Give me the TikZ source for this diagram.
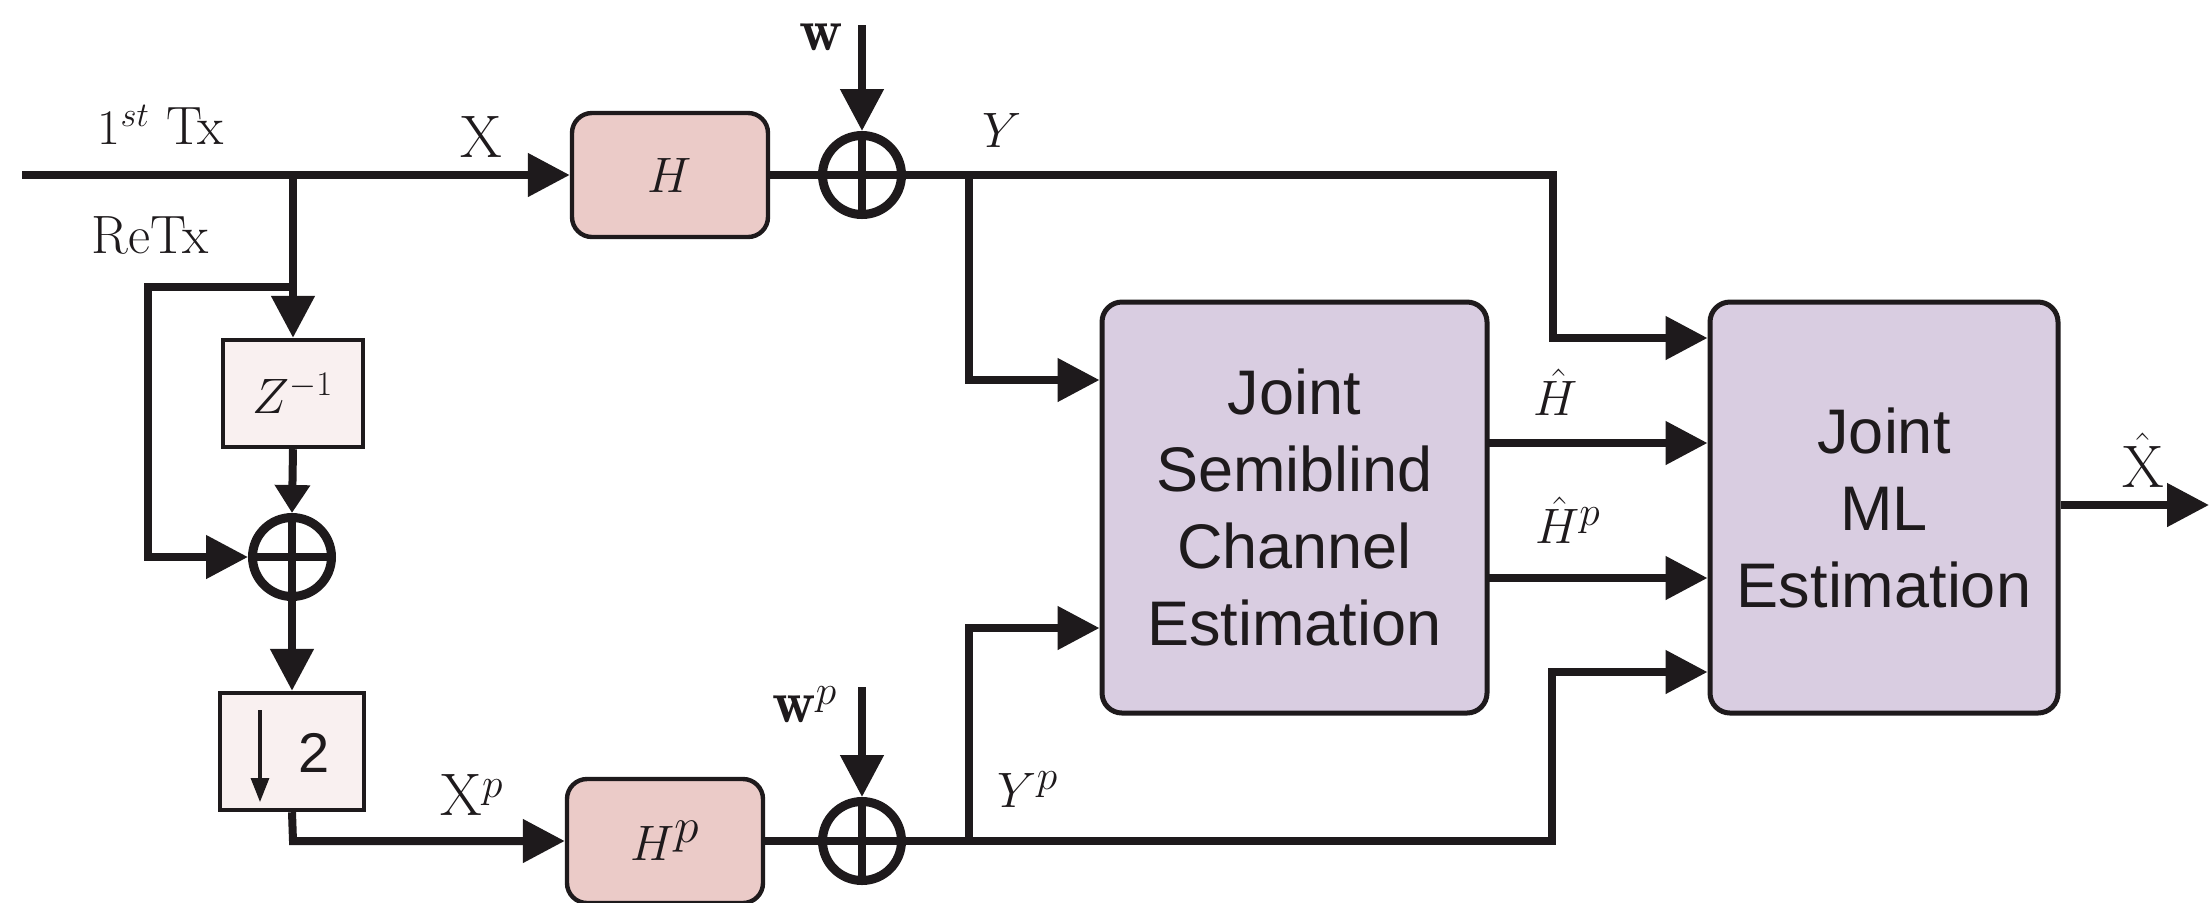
\documentclass[tikz,border=0pt]{standalone}
\usepackage{fontspec}
\newfontfamily\sff{Liberation Sans}
\usetikzlibrary{arrows.meta,calc}
\definecolor{hpink}{HTML}{EBCBC8}
\definecolor{lpink}{HTML}{F9F0F0}
\definecolor{lav}{HTML}{D9CDE1}
\definecolor{ink}{HTML}{1E1A1C}
\tikzset{
 sig/.style={line width=4pt, draw=ink},
 arr/.style={-{Triangle[length=21pt,width=21pt]}},
 sarr/.style={-{Triangle[length=14pt,width=17pt]}},
 hbox/.style={draw=ink, line width=2.2pt, fill=hpink, rounded corners=10pt, minimum width=98pt, minimum height=62pt, inner sep=0pt, font=\fontsize{34}{40}\selectfont, text=ink},
 dbox/.style={draw=ink, line width=2.2pt, fill=lpink, inner sep=0pt, text=ink},
 bigbox/.style={draw=ink, line width=2.5pt, fill=lav, rounded corners=10pt, minimum height=205.5pt, inner sep=0pt, align=center, font=\sff\fontsize{31.5}{38.5}\selectfont, text=ink},
 summ/.style={circle, draw=ink, line width=4.5pt, minimum size=39.5pt, inner sep=0pt},
 lab/.style={inner sep=0pt, font=\fontsize{27}{32}\selectfont, text=ink},
}
\begin{document}
\begin{tikzpicture}[x=0.5pt,y=-0.5pt]
\path[use as bounding box, fill=white] (0,0) rectangle (2211,902);

% blocks
\node[hbox] (H) at (670,175) {$H$};
\node[summ] (s1) at (862,175) {};
\node[dbox, minimum width=70pt, minimum height=53.5pt, font=\fontsize{25}{28}\selectfont] (Z) at (293,393.5) {$Z^{-1}$};
\node[summ] (s2) at (292,557) {};
\node[dbox, minimum width=72pt, minimum height=58.5pt] (dn) at (292,751.5) {};
\node[inner sep=0pt, font=\sff\fontsize{28}{30}\selectfont, text=ink] (two) at (314,753) {2};
\coordinate (dnA) at (260,710);
\coordinate (dnB) at (260,802);
\draw[line width=1.6pt, draw=ink, -{Triangle[length=12pt,width=9pt]}] (dnA) -- (dnB);
\node[hbox] (Hp) at (665,841) {$H^p$};
\node[summ] (s3) at (862,841) {};
\node[bigbox, minimum width=192.5pt] (J) at (1294.5,507.5) {Joint\\Semiblind\\Channel\\Estimation};
\node[bigbox, minimum width=174pt] (ML) at (1884,507.5) {Joint\\ML\\Estimation};

% crosses in summers
\foreach \s in {s1,s2,s3}{
  \draw[line width=4pt, draw=ink] (\s.north) -- (\s.south) (\s.west) -- (\s.east);
}

% coordinates
\coordinate (in) at (22,175);
\coordinate (b1) at (293,175);
\coordinate (lp1) at (293,287);
\coordinate (lp2) at (148,287);
\coordinate (lp3) at (148,557);
\coordinate (d1) at (293,841);
\coordinate (wtop) at (862,25);
\coordinate (wptop) at (862,687);
\coordinate (y1) at (969,175);
\coordinate (y1b) at (969,380);
\coordinate (k1) at (1553,175);
\coordinate (k1b) at (1553,338);
\coordinate (y2) at (969,841);
\coordinate (y2b) at (969,628);
\coordinate (k2) at (1552,841);
\coordinate (k2b) at (1552,672);
\coordinate (o1) at (1487,443);
\coordinate (o2) at (1487,578);
\coordinate (out) at (2209,505);

% connectors
\draw[sig,arr] (in) -- (H.west);
\draw[sig,arr] (b1) -- (Z.north);
\draw[sig,arr] (lp1) -- (lp2) -- (lp3) -- (s2.west);
\draw[sig,sarr] (Z.south) -- (s2.north);
\draw[sig,arr] (s2.south) -- (dn.north);
\draw[sig,arr] (dn.south) -- (d1) -- (Hp.west);
\draw[sig] (H.east) -- (s1.west);
\draw[sig,arr] (wtop) -- (s1.north);
\draw[sig,arr] (s1.east) -- (k1) -- (k1b) -- (k1b -| ML.west);
\draw[sig,arr] (y1) -- (y1b) -- (y1b -| J.west);
\draw[sig,arr] (o1) -- (o1 -| ML.west);
\draw[sig,arr] (o2) -- (o2 -| ML.west);
\draw[sig] (Hp.east) -- (s3.west);
\draw[sig,arr] (wptop) -- (s3.north);
\draw[sig,arr] (s3.east) -- (k2) -- (k2b) -- (k2b -| ML.west);
\draw[sig,arr] (y2) -- (y2b) -- (y2b -| J.west);
\draw[sig,arr] (ML.east |- out) -- (out);

% labels
\node[lab] (l1) at (161,125) {$1^{st}$ Tx};
\node[lab] (l2) at (150,235) {ReTx};
\node[lab, font=\fontsize{30}{34}\selectfont] (lX) at (481,137) {$\mathrm{X}$};
\node[lab, font=\fontsize{30}{34}\selectfont] (lw) at (821,37) {$\mathbf{w}$};
\node[lab, font=\fontsize{30}{34}\selectfont] (lY) at (1002,130) {$Y$};
\node[lab, font=\fontsize{30}{34}\selectfont] (lHh) at (1556,392) {$\hat{H}$};
\node[lab, font=\fontsize{30}{34}\selectfont] (lHp) at (1568,520) {$\hat{H}^p$};
\node[lab, font=\fontsize{30}{34}\selectfont] (lXh) at (2143,460) {$\hat{\mathrm{X}}$};
\node[lab, font=\fontsize{30}{34}\selectfont] (lXp) at (472,795) {$\mathrm{X}^p$};
\node[lab, font=\fontsize{30}{34}\selectfont] (lwp) at (805,705) {$\mathbf{w}^p$};
\node[lab, font=\fontsize{30}{34}\selectfont] (lYp) at (1028,790) {$Y^p$};
\end{tikzpicture}
\end{document}
